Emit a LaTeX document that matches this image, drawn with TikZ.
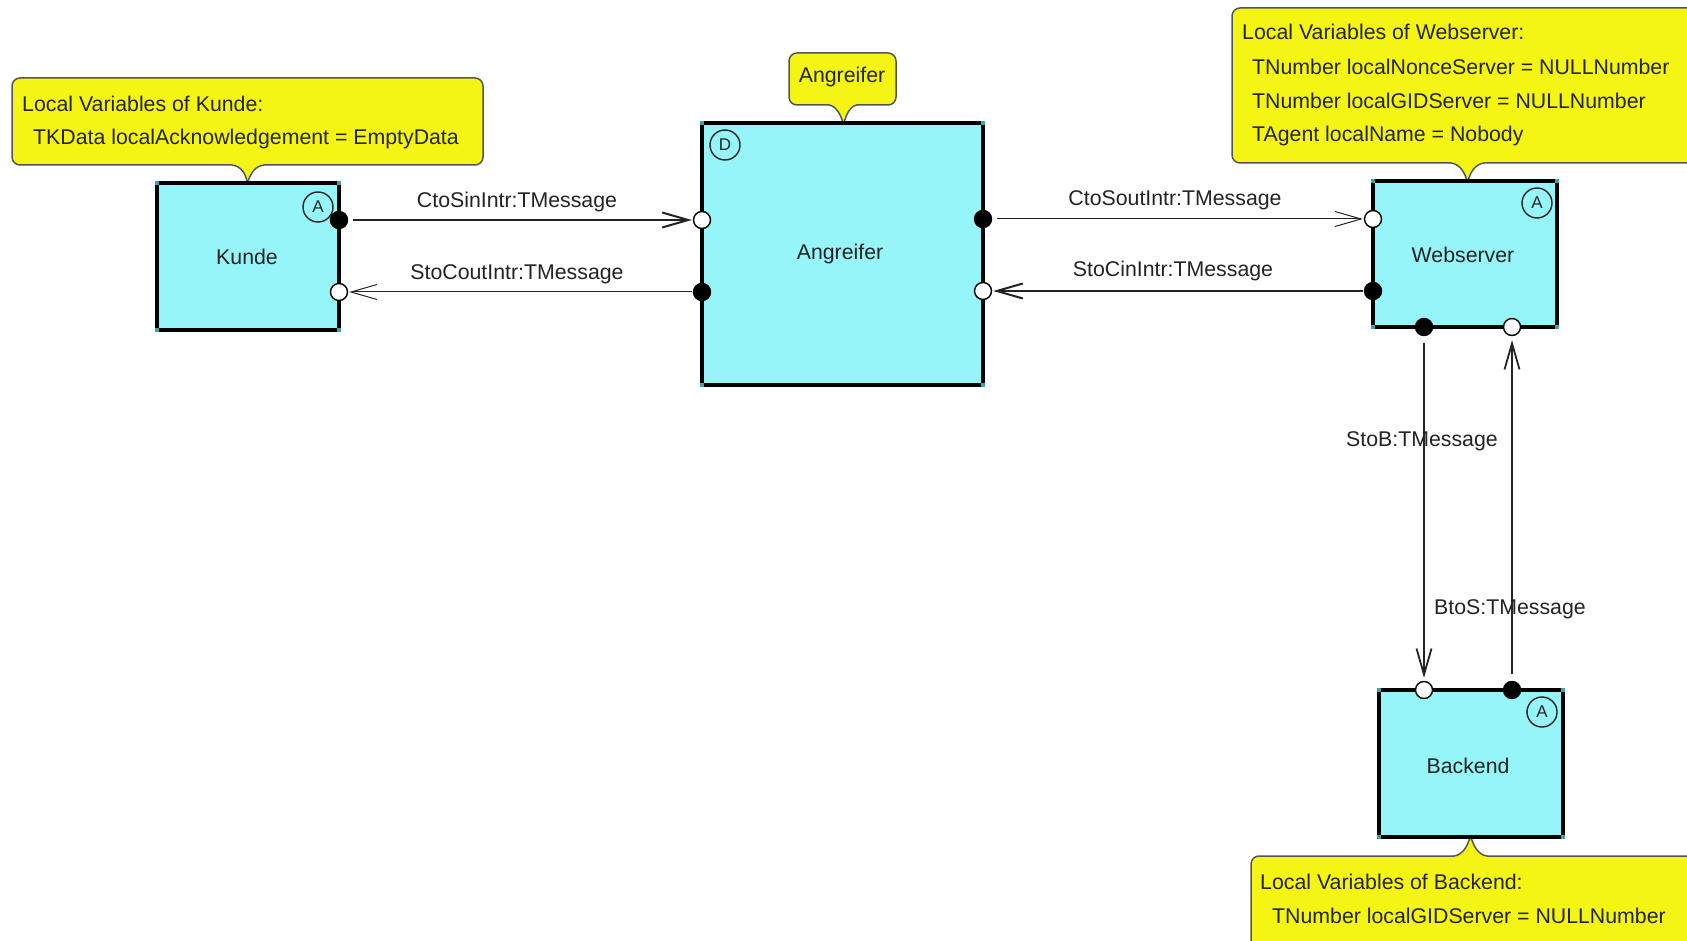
\documentclass[tikz,border=0pt]{standalone}
\usepackage{fontspec}
\setmainfont{Liberation Sans}
\usetikzlibrary{arrows.meta}
\definecolor{boxcyan}{RGB}{150,245,249}
\definecolor{noteyellow}{RGB}{245,245,20}
\definecolor{noteedge}{RGB}{85,85,85}
\definecolor{handle}{RGB}{70,160,165}
\definecolor{ink}{RGB}{35,35,35}

\begin{document}
\begin{tikzpicture}[x=1pt,y=-1pt,
  every node/.style={font=\fontsize{21.3}{25}\selectfont, text=ink},
  block/.style={draw=black, line width=4.5pt, fill=boxcyan, outer sep=0pt, inner sep=0pt},
  port/.style={circle, draw=black, line width=1.4pt, minimum size=17pt, inner sep=0pt},
  portin/.style={port, fill=white},
  portout/.style={port, fill=black},
  kind/.style={circle, draw=ink, line width=1.4pt, minimum size=30pt, inner sep=0pt,
               font=\fontsize{17}{19}\selectfont},
  note/.style={draw=noteedge, line width=1.5pt, fill=noteyellow, line join=round},
  rc/.style={rounded corners=8pt},
  msg/.style={draw=ink, -{Straight Barb[length=26pt,width=15pt]}},
  thickmsg/.style={msg, line width=2pt},
  thinmsg/.style={msg, line width=1pt},
  vmsg/.style={msg, line width=1.8pt},
  txt/.style={anchor=base west, inner sep=0pt},
  lbl/.style={anchor=base, inner sep=0pt},
]
\useasboundingbox (0,0) rectangle (1687,941);
\clip (0,0) rectangle (1687,941);

% ---- local-variable notes (drawn first, pointers meet the block edges)
% pointer curves are kept sharp, only the box corners are rounded
\draw[note] (248,182) .. controls (250,174) and (255,166) .. (264,165)
  -- (460,165) [rc] -- (483,165) -- (483,78) -- (12,78) -- (12,165)
  -- (40,165) [sharp corners] -- (232,165)
  .. controls (241,166) and (246,174) .. (247,182);
\node[txt] (kNote1) at (22,112) {Local Variables of Kunde:};
\node[txt] (kNote2) at (33,145) {TKData localAcknowledgement = EmptyData};

\draw[note] (844,123) .. controls (846,115) and (850,106) .. (857,105)
  -- (880,105) [rc] -- (896,105) -- (896,53) -- (789,53) -- (789,105)
  -- (805,105) [sharp corners] -- (829,105)
  .. controls (836,106) and (841,115) .. (843,123);
\node[lbl] (aNote) at (842,83) {Angreifer};

\draw[note] (1468,181) .. controls (1470,173) and (1475,164) .. (1484,163)
  -- (1700,163) [rc] -- (1710,163) -- (1710,8) -- (1232,8) -- (1232,163)
  -- (1260,163) [sharp corners] -- (1451,163)
  .. controls (1460,164) and (1465,173) .. (1467,181);
\node[txt] (wNote1) at (1242,40) {Local Variables of Webserver:};
\node[txt] (wNote2) at (1252,75) {TNumber localNonceServer = NULLNumber};
\node[txt] (wNote3) at (1252,109) {TNumber localGIDServer = NULLNumber};
\node[txt] (wNote4) at (1252,142) {TAgent localName = Nobody};

\draw[note] (1471,837) .. controls (1473,845) and (1478,855) .. (1487,856)
  -- (1700,856) [rc] -- (1710,856) -- (1710,970) -- (1251,970) -- (1251,856)
  -- (1280,856) [sharp corners] -- (1454,856)
  .. controls (1463,855) and (1468,845) .. (1470,837);
\node[txt] (bNote1) at (1260,889) {Local Variables of Backend:};
\node[txt] (bNote2) at (1272,923) {TNumber localGIDServer = NULLNumber};

% ---- blocks
\node[block, minimum width=182pt, minimum height=147pt] (kunde) at (248,256.5) {};
\node[block, minimum width=281pt, minimum height=262pt] (angr) at (842.5,254) {};
\node[block, minimum width=184pt, minimum height=146pt] (web) at (1465,254) {};
\node[block, minimum width=184pt, minimum height=147pt] (back) at (1471,763.5) {};

\foreach \b in {kunde,angr,web,back}{
  \foreach \c in {north west,north east,south west,south east}{
    \fill[handle] ([shift={(-2,-2)}]\b.\c) rectangle ++(4,4);
  }
}

\node[lbl] (kundeLbl) at (247,265) {Kunde};
\node[lbl] (angrLbl) at (840,260) {Angreifer};
\node[lbl] (webLbl) at (1463,263) {Webserver};
\node[lbl] (backLbl) at (1468,773) {Backend};

\node[kind] (kundeKind) at (318,207) {A};
\node[kind] (angrKind) at (725,145) {D};
\node[kind] (webKind) at (1537,203) {A};
\node[kind] (backKind) at (1542,712) {A};

% ---- ports
\node[portout] (kOut) at (339,220) {};
\node[portin]  (kIn)  at (339,292) {};
\node[portin]  (aInL) at (702,220) {};
\node[portout] (aOutL) at (702,292) {};
\node[portout] (aOutR) at (983,219) {};
\node[portin]  (aInR) at (983,291) {};
\node[portin]  (wInL) at (1373,219) {};
\node[portout] (wOutL) at (1373,291) {};
\node[portout] (wOutB) at (1424,327) {};
\node[portin]  (wInB) at (1512,327) {};
\node[portin]  (bIn)  at (1424,690) {};
\node[portout] (bOut) at (1512,690) {};

% ---- channels
\draw[thickmsg, shorten <=5pt, shorten >=1pt] (kOut) -- (aInL);
\draw[thinmsg, shorten <=1pt, shorten >=1pt] (aOutL) -- (kIn);
\draw[thinmsg, shorten <=5pt, shorten >=1pt] (aOutR) -- (wInL);
\draw[thickmsg, shorten <=1pt, shorten >=1pt] (wOutL) -- (aInR);
\draw[vmsg, shorten <=6.5pt, shorten >=3pt] (wOutB) -- (bIn);
\draw[vmsg, shorten <=6.5pt, shorten >=4pt] (bOut) -- (wInB);

\node[lbl] (l1) at (517,208) {CtoSinIntr:TMessage};
\node[lbl] (l2) at (517,280) {StoCoutIntr:TMessage};
\node[lbl] (l3) at (1175,206) {CtoSoutIntr:TMessage};
\node[lbl] (l4) at (1173,277) {StoCinIntr:TMessage};
\node[lbl] (l5) at (1422,446) {StoB:TMessage};
\node[lbl] (l6) at (1510,614) {BtoS:TMessage};
\end{tikzpicture}
\end{document}
